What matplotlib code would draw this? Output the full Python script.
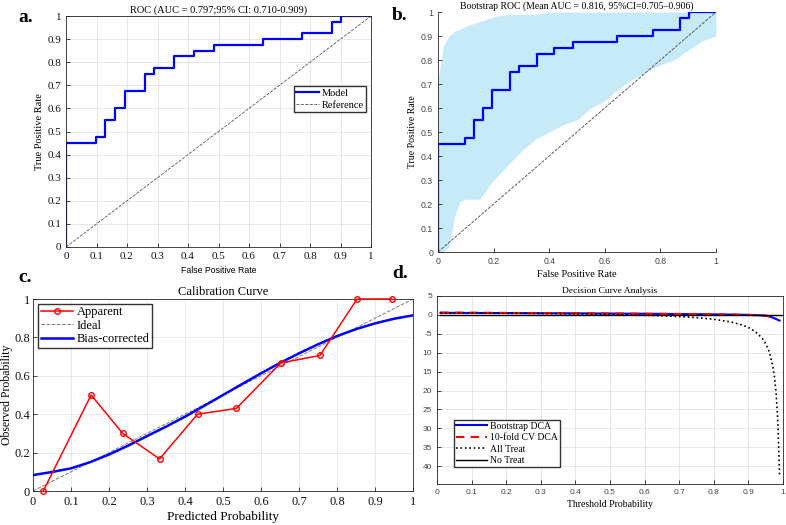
import matplotlib
matplotlib.use("Agg")
import matplotlib.pyplot as plt

# --- Datos ---
# ROC del modelo (vertices de la curva escalonada)
roc_fpr = [0, 0, 0.097, 0.097, 0.129, 0.129, 0.161, 0.161, 0.194, 0.194, 0.258, 0.258,
           0.290, 0.290, 0.355, 0.355, 0.419, 0.419, 0.484, 0.484, 0.645, 0.645,
           0.774, 0.774, 0.871, 0.871, 0.903, 0.903, 1.0]
roc_tpr = [0, 0.45, 0.45, 0.475, 0.475, 0.55, 0.55, 0.60, 0.60, 0.675, 0.675, 0.75,
           0.75, 0.775, 0.775, 0.825, 0.825, 0.85, 0.85, 0.875, 0.875, 0.90,
           0.90, 0.925, 0.925, 0.975, 0.975, 1.0, 1.0]

# banda de las curvas bootstrap (borde inferior y superior)
band_fpr = [0, 0.02, 0.04, 0.06, 0.08, 0.10, 0.15, 0.20, 0.25, 0.30, 0.35, 0.40, 0.45,
            0.50, 0.55, 0.60, 0.65, 0.70, 0.75, 0.80, 0.85, 0.90, 0.95, 1.0]
band_low = [0, 0, 0.02, 0.15, 0.21, 0.22, 0.22, 0.30, 0.36, 0.42, 0.47, 0.50, 0.53,
            0.55, 0.60, 0.63, 0.68, 0.72, 0.75, 0.78, 0.80, 0.84, 0.88, 0.90]
band_up = [0.72, 0.86, 0.90, 0.92, 0.93, 0.94, 0.96, 0.98, 0.99, 0.99, 0.99, 1.0, 1.0,
           1.0, 1.0, 1.0, 1.0, 1.0, 1.0, 1.0, 1.0, 1.0, 1.0, 1.0]

# curva de calibracion
cal_pred = [0.027, 0.153, 0.236, 0.333, 0.433, 0.535, 0.652, 0.755, 0.853, 0.944]
cal_obs = [0.0, 0.50, 0.30, 0.167, 0.40, 0.43, 0.667, 0.706, 1.0, 1.0]
bias_x = [0, 0.05, 0.10, 0.15, 0.20, 0.25, 0.30, 0.35, 0.40, 0.45, 0.50, 0.55, 0.60,
          0.65, 0.70, 0.75, 0.80, 0.85, 0.90, 0.95, 1.0]
bias_y = [0.083, 0.099, 0.118, 0.150, 0.190, 0.236, 0.286, 0.335, 0.387, 0.443, 0.500,
          0.557, 0.613, 0.667, 0.717, 0.764, 0.807, 0.843, 0.873, 0.897, 0.915]

# analisis de curva de decision
dca_thr = [0.01, 0.05, 0.10, 0.20, 0.30, 0.40, 0.50, 0.60, 0.70, 0.80, 0.85, 0.90,
           0.92, 0.94, 0.95, 0.96, 0.97, 0.98, 0.99]
dca_boot = [0.55, 0.54, 0.52, 0.49, 0.45, 0.41, 0.36, 0.31, 0.24, 0.15, 0.09, 0.01,
            -0.05, -0.15, -0.25, -0.40, -0.70, -1.10, -1.50]
dca_cv = [0.62, 0.60, 0.58, 0.54, 0.49, 0.44, 0.38, 0.32, 0.25, 0.16, 0.10, 0.02,
          -0.04, -0.12, -0.20, -0.32, -0.50, -0.80, None]
all_thr = [0.01, 0.10, 0.20, 0.30, 0.40, 0.50, 0.60, 0.65, 0.70, 0.75, 0.80, 0.85, 0.88,
           0.90, 0.92, 0.94, 0.95, 0.96, 0.97, 0.975, 0.98, 0.985, 0.99]
all_treat = [0.56, 0.52, 0.46, 0.39, 0.28, 0.14, -0.08, -0.23, -0.43, -0.72, -1.15, -1.87,
             -2.60, -3.30, -4.40, -6.20, -7.60, -9.70, -13.3, -16.2, -20.5, -28.0, -42.3]

W, H = 786, 525
SERIF = "Liberation Serif"
SANS = "Liberation Sans"
GRIS = "#262626"

fig = plt.figure(figsize=(W / 100, H / 100), dpi=100)


def ejes(izq, arriba, der, abajo):
    # crea ejes a partir de coordenadas en pixeles
    ax = fig.add_axes([izq / W, 1 - abajo / H, (der - izq) / W, (abajo - arriba) / H])
    ax.tick_params(direction="in", colors=GRIS, length=3, width=0.6)
    for s in ax.spines.values():
        s.set_color(GRIS)
        s.set_linewidth(0.6)
    return ax


def fuente(ax, familia, tam, color=GRIS):
    for lab in ax.get_xticklabels() + ax.get_yticklabels():
        lab.set_fontfamily(familia)
        lab.set_fontsize(tam)
        lab.set_color(color)


ticks10 = [i / 10 for i in range(11)]
lab10 = ["0"] + [f"{t:.1f}" for t in ticks10[1:-1]] + ["1"]

# --- a. ROC ---
ax_a = ejes(66, 16, 371, 247)
ax_a.plot([0, 1], [0, 1], color="#555555", linestyle="--", linewidth=0.6, label="Reference")
ax_a.plot(roc_fpr, roc_tpr, color="#0000ff", linewidth=1.6, label="Model")
ax_a.set_xlim(0, 1)
ax_a.set_ylim(0, 1)
ax_a.set_xticks(ticks10, lab10)
ax_a.set_yticks(ticks10, lab10)
ax_a.grid(True, color="#e3e3e3", linewidth=0.6)
ax_a.set_axisbelow(True)
fuente(ax_a, SERIF, 8, "#111111")
ax_a.set_title("ROC (AUC = 0.797;95% CI: 0.710-0.909)", fontfamily=SERIF, fontsize=7.5, pad=2)
ax_a.set_ylabel("True Positive Rate", fontfamily=SERIF, fontsize=7.5, labelpad=2)
ax_a.set_xlabel("False Positive Rate", fontfamily=SANS, fontsize=6.3, labelpad=4)
h, l = ax_a.get_legend_handles_labels()
ax_a.legend(h[::-1], l[::-1], loc="center right", bbox_to_anchor=(0.99, 0.64),
            prop={"family": SERIF, "size": 7.5}, fancybox=False, edgecolor="#333333",
            framealpha=1, borderpad=0.2, handlelength=2.2, labelspacing=0.3,
            handletextpad=0.3, borderaxespad=0.2)

# --- b. Bootstrap ROC ---
ax_b = ejes(438, 12, 716, 252)
ax_b.fill_between(band_fpr, band_low, band_up, color="#c4e9f9", alpha=0.95, linewidth=0)
ax_b.plot([0, 1], [0, 1], color="#444444", linestyle="--", linewidth=0.6)
ax_b.plot(roc_fpr, roc_tpr, color="#0000ff", linewidth=1.6)
ax_b.set_xlim(0, 1)
ax_b.set_ylim(0, 1)
ax_b.spines["top"].set_visible(False)
ax_b.spines["right"].set_visible(False)
ax_b.set_xticks([0, 0.2, 0.4, 0.6, 0.8, 1], ["0", "0.2", "0.4", "0.6", "0.8", "1"])
ax_b.set_yticks(ticks10, lab10)
fuente(ax_b, SANS, 6.3, "#444444")
ax_b.set_title("Bootstrap ROC (Mean AUC = 0.816, 95%CI=0.705\u20130.906)", fontfamily=SERIF,
               fontsize=7, pad=2)
ax_b.set_ylabel("True Positive Rate", fontfamily=SERIF, fontsize=7, labelpad=3)
ax_b.set_xlabel("False Positive Rate", fontfamily=SERIF, fontsize=7.5, labelpad=3)

# --- c. Calibracion ---
ax_c = ejes(33, 299, 413, 491)
ax_c.plot(cal_pred, cal_obs, color="#ff0000", linewidth=1.1, marker="o", markersize=4,
          markerfacecolor="none", markeredgewidth=1.0, label="Apparent", clip_on=False, zorder=4)
ax_c.plot([0, 1], [0, 1], color="#777777", linestyle="--", linewidth=0.7, label="Ideal")
ax_c.plot(bias_x, bias_y, color="#0000ff", linewidth=1.8, label="Bias-corrected")
ax_c.set_xlim(0, 1)
ax_c.set_ylim(0, 1)
ax_c.set_xticks(ticks10, lab10)
ax_c.set_yticks([0, 0.2, 0.4, 0.6, 0.8, 1], ["0", "0.2", "0.4", "0.6", "0.8", "1"])
ax_c.tick_params(axis="y", pad=2)
ax_c.grid(True, color="#e6e6e6", linewidth=0.6)
ax_c.set_axisbelow(True)
fuente(ax_c, SERIF, 9, "#111111")
ax_c.set_title("Calibration Curve", fontfamily=SERIF, fontsize=9, pad=3)
ax_c.set_xlabel("Predicted Probability", fontfamily=SERIF, fontsize=9.5, labelpad=2)
ax_c.set_ylabel("Observed Probability", fontfamily=SERIF, fontsize=8.5)
ax_c.yaxis.set_label_coords(-20 / 380, 0.5)
ax_c.legend(loc="upper left", prop={"family": SERIF, "size": 9}, fancybox=False,
            edgecolor="#333333", framealpha=1, borderpad=0.2, handlelength=2.6,
            labelspacing=0.1, handletextpad=0.3, borderaxespad=0.4)

# --- d. Curva de decision ---
ax_d = ejes(437, 296, 783, 484)
ax_d.plot(dca_thr, dca_boot, color="#0000ff", linewidth=1.5, label="Bootstrap DCA")
cv_x = [t for t, v in zip(dca_thr, dca_cv) if v is not None]
cv_y = [v for v in dca_cv if v is not None]
ax_d.plot(cv_x, cv_y, color="#ff0000", linestyle=(0, (4, 3)), linewidth=1.5, label="10-fold CV DCA")
ax_d.plot(all_thr, all_treat, color="black", linestyle=":", linewidth=1.2, label="All Treat")
ax_d.plot([0.01, 1.0], [0, 0], color="black", linewidth=1.0, label="No Treat")
ax_d.set_xlim(0, 1)
ax_d.set_ylim(-44.7, 5)
ax_d.set_xticks(ticks10, lab10)
d_ticks = [5, 0, -5, -10, -15, -20, -25, -30, -35, -40]
ax_d.set_yticks(d_ticks, ["5", "0", "-5", "10", "15", "20", "25", "30", "35", "40"])
ax_d.grid(True, color="#e3e3e3", linewidth=0.6)
ax_d.set_axisbelow(True)
fuente(ax_d, SANS, 6, "#444444")
ax_d.set_title("Decision Curve Analysis", fontfamily=SERIF, fontsize=6.8, pad=2)
ax_d.set_xlabel("Threshold Probability", fontfamily=SERIF, fontsize=7, labelpad=3)
ax_d.legend(loc="lower left", bbox_to_anchor=(0.05, 0.09), prop={"family": SERIF, "size": 7},
            fancybox=False, edgecolor="#333333", framealpha=1, borderpad=0.2,
            handlelength=3.2, labelspacing=0.25, handletextpad=0.3, borderaxespad=0)

# etiquetas de los paneles
for txt, x, y in [("a.", 18, 22), ("b.", 392, 20), ("c.", 18, 282), ("d.", 392, 278)]:
    fig.text(x / W, 1 - y / H, txt, fontfamily=SERIF, fontsize=14, fontweight="bold")

fig.savefig("out.png", dpi=100)
